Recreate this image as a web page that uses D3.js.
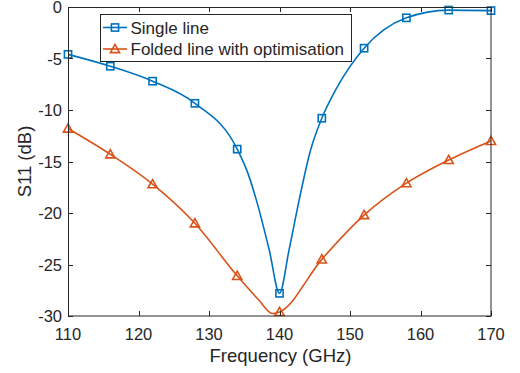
<!DOCTYPE html>
<html>
<head>
<meta charset="utf-8">
<script src="https://cdnjs.cloudflare.com/ajax/libs/d3/7.8.5/d3.min.js"></script>
<style>
  body { margin: 0; background: #fff; }
  text { font-family: Arial, "Liberation Sans", sans-serif; fill: #262626; }
</style>
</head>
<body>
<div id="chart"></div>
<script>
// marker positions (GHz) and values
var markerFreq = [110, 116, 122, 128, 134, 140, 146, 152, 158, 164, 170];
var singleMarkers = [-4.6, -5.75, -7.2, -9.35, -13.8, -27.8, -10.8, -4.0, -1.05, -0.3, -0.35];
var foldedMarkers = [-11.8, -14.3, -17.2, -21.0, -26.1, -29.6, -24.5, -20.2, -17.1, -14.85, -13.0];

// extra points along the curves, between markers
var singleExtraFreq = [135.6, 136.7, 138.55, 141.35, 142.8, 144.4, 148];
var singleExtraVal = [-16.3, -18.7, -23.6, -23.6, -18.7, -13.9, -8.0];
var foldedExtraFreq = [137, 139];
var foldedExtraVal = [-28.4, -29.75];

var xTicks = [110, 120, 130, 140, 150, 160, 170];
var yTicks = [0, -5, -10, -15, -20, -25, -30];

var series = [
    { name: "Single line", color: "#0072BD", marker: "square", vals: singleMarkers, exF: singleExtraFreq, exV: singleExtraVal },
    { name: "Folded line with optimisation", color: "#D95319", marker: "triangle", vals: foldedMarkers, exF: foldedExtraFreq, exV: foldedExtraVal }
];

// set the dimensions and margins of the graph
var margin = { top: 7, right: 29, bottom: 57, left: 68 },
    width = 520 - margin.left - margin.right,
    height = 373 - margin.top - margin.bottom;

var svg = d3.select("#chart")
    .append("svg")
    .attr("width", 520)
    .attr("height", 373)
    .append("g")
    .attr("transform", "translate(" + margin.left + "," + margin.top + ")");

var x = d3.scaleLinear().domain([110, 170]).range([0, width]);
var y = d3.scaleLinear().domain([-30, 0]).range([height, 0]);

// curves
var line = d3.line()
    .x(function (d) { return x(d[0]); })
    .y(function (d) { return y(d[1]); })
    .curve(d3.curveMonotoneX);

series.forEach(function (s) {
    var pts = markerFreq.map(function (f, i) { return [f, s.vals[i]]; });
    s.exF.forEach(function (f, i) { pts.push([f, s.exV[i]]); });
    pts.sort(function (a, b) { return a[0] - b[0]; });
    s.points = pts;
});

series.forEach(function (s) {
    svg.append("path")
        .datum(s.points)
        .attr("fill", "none")
        .attr("stroke", s.color)
        .attr("stroke-width", 1.6)
        .attr("d", line);
});

function drawMarker(g, type, cx, cy, color) {
    if (type === "square") {
        g.append("rect")
            .attr("x", cx - 3.6).attr("y", cy - 3.6)
            .attr("width", 7.2).attr("height", 7.2)
            .attr("fill", "none").attr("stroke", color).attr("stroke-width", 1.6);
    } else {
        g.append("path")
            .attr("d", "M" + cx + "," + (cy - 4.6) + "L" + (cx + 4.6) + "," + (cy + 3.6) + "L" + (cx - 4.6) + "," + (cy + 3.6) + "Z")
            .attr("fill", "none").attr("stroke", color).attr("stroke-width", 1.6);
    }
}

series.forEach(function (s) {
    var g = svg.append("g");
    markerFreq.forEach(function (f, i) {
        drawMarker(g, s.marker, x(f), y(s.vals[i]), s.color);
    });
});

// box and axes
var axisColor = "#262626";
svg.append("rect")
    .attr("x", 0.5).attr("y", 0.5)
    .attr("width", width - 0.5).attr("height", height - 0.5)
    .attr("fill", "none").attr("stroke", axisColor).attr("stroke-width", 1);

var tl = 5;
xTicks.forEach(function (t) {
    var px = Math.round(x(t)) + 0.5;
    svg.append("line").attr("x1", px).attr("x2", px).attr("y1", height).attr("y2", height - tl).attr("stroke", axisColor);
    svg.append("line").attr("x1", px).attr("x2", px).attr("y1", 0).attr("y2", tl).attr("stroke", axisColor);
    svg.append("text")
        .attr("x", x(t)).attr("y", height + 24)
        .attr("text-anchor", "middle")
        .style("font-size", "16.5px")
        .text(t);
});
yTicks.forEach(function (t) {
    var py = Math.round(y(t)) + 0.5;
    svg.append("line").attr("x1", 0).attr("x2", tl).attr("y1", py).attr("y2", py).attr("stroke", axisColor);
    svg.append("line").attr("x1", width).attr("x2", width - tl).attr("y1", py).attr("y2", py).attr("stroke", axisColor);
    svg.append("text")
        .attr("x", -6).attr("y", y(t) + 6)
        .attr("text-anchor", "end")
        .style("font-size", "16.5px")
        .text(t);
});

// axis labels
svg.append("text")
    .attr("x", width / 2 + 1).attr("y", height + 46)
    .attr("text-anchor", "middle")
    .style("font-size", "18.5px")
    .text("Frequency (GHz)");

svg.append("text")
    .attr("transform", "translate(" + (-37) + "," + (height / 2) + ") rotate(-90)")
    .attr("text-anchor", "middle")
    .style("font-size", "18.5px")
    .text("S11 (dB)");

// legend
var lg = svg.append("g").attr("transform", "translate(" + (100 - margin.left) + "," + (14 - margin.top) + ")");
lg.append("rect")
    .attr("x", 0.5).attr("y", 0.5).attr("width", 251).attr("height", 47)
    .attr("fill", "#fff").attr("stroke", axisColor).attr("stroke-width", 1);
series.forEach(function (s, i) {
    var cy = 13.5 + i * 21.5;
    lg.append("line").attr("x1", 3).attr("x2", 27).attr("y1", cy).attr("y2", cy)
        .attr("stroke", s.color).attr("stroke-width", 1.6);
    drawMarker(lg, s.marker, 15, cy, s.color);
    lg.append("text")
        .attr("x", 30.5).attr("y", cy + 6)
        .style("font-size", "17px")
        .text(s.name);
});
</script>
</body>
</html>
